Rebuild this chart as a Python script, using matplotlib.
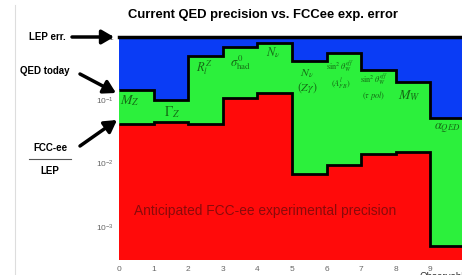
import numpy as np
import matplotlib
matplotlib.use('Agg')
import matplotlib.pyplot as plt
from matplotlib.lines import Line2D

# per observable (bins 0..9)
edges = np.arange(0, 11)
qed_today = [0.145, 0.10, 0.50, 0.69, 0.80, 0.42, 0.55, 0.30, 0.195, 0.053]
fcc_over_lep = [0.043, 0.045, 0.042, 0.11, 0.13, 0.0069, 0.0096, 0.014, 0.0155, 0.0005]
obs_labels = [r'$M_Z$', r'$\Gamma_Z$', r'$R_l^Z$', r'$\sigma^0_{\rm had}$', r'$N_\nu$',
              r'$N_\nu$' + '\n' + r'$(Z\gamma)$',
              r'$\sin^2\theta_W^{eff}$' + '\n' + r'$(A^l_{FB})$',
              r'$\sin^2\theta_W^{eff}$' + '\n' + r'$(\tau\ pol)$',
              r'$M_W$', r'$\alpha_{QED}$']
ytick_vals = [1e-3, 1e-2, 1e-1, 1]
ytick_labels = [r'$\mathregular{10^{-3}}$', r'$\mathregular{10^{-2}}$',
                r'$\mathregular{10^{-1}}$', '1']

plt.rcParams['font.family'] = ['Liberation Sans', 'DejaVu Sans']
plt.rcParams['mathtext.fontset'] = 'stix'

fig = plt.figure(figsize=(4.62, 2.75), dpi=100)
ax = fig.add_axes([119/462, 1-260/275, 346/462, 223/275])
ymin = 10**(-223/63.3)

ax.stairs([1]*10, edges, baseline=qed_today, fill=True, color='#0a3cf5')
ax.stairs(qed_today, edges, baseline=fcc_over_lep, fill=True, color='#2cf03c')
ax.stairs(fcc_over_lep, edges, baseline=ymin, fill=True, color='#ff0a0a')
ax.stairs(qed_today, edges, baseline=None, color='black', lw=2)
ax.stairs(fcc_over_lep, edges, baseline=None, color='black', lw=2)
ax.axhline(1, color='black', lw=2.5, clip_on=False)

ax.set_yscale('log')
ax.set_ylim(ymin, 1)
ax.set_xlim(0, 10)
for s in ax.spines.values():
    s.set_visible(False)
ax.set_yticks(ytick_vals)
ax.set_yticklabels(ytick_labels)
ax.yaxis.set_minor_locator(matplotlib.ticker.NullLocator())
ax.set_xticks(range(10))
ax.tick_params(length=0, labelsize=6, colors='#666666', pad=4)

# label positions (x, log10 y, size)
pos = [(0.32, -1.0, 10), (1.53, -1.19, 10), (2.46, -0.49, 9), (3.5, -0.40, 9),
       (4.45, -0.24, 9), (5.43, -0.70, 8.5), (6.4, -0.60, 6), (7.37, -0.78, 6),
       (8.38, -0.92, 10), (9.5, -1.44, 9)]
for lab, (x, ly, fs) in zip(obs_labels, pos):
    ax.text(x, 10**ly, lab, ha='center', va='center', fontsize=fs,
            color='#156b15', linespacing=1.1)

ax.text(0.42, 10**-2.75, 'Anticipated FCC-ee experimental precision',
        fontsize=9.9, color='#8a0a0a', va='center')

fig.text(263/462, 1-15/275, 'Current QED precision vs. FCCee exp. error',
         ha='center', va='center', fontsize=9.4, fontweight='bold')

# left annotations
def fp(x, y):
    return (x/462, 1-y/275)

fig.text(*fp(47, 37), 'LEP err.', ha='center', va='center', fontsize=7, fontweight='bold')
fig.text(*fp(45, 71), 'QED today', ha='center', va='center', fontsize=7, fontweight='bold')
fig.text(*fp(50, 148), 'FCC-ee', ha='center', va='center', fontsize=7, fontweight='bold')
fig.text(*fp(50, 171), 'LEP', ha='center', va='center', fontsize=7, fontweight='bold')
fig.add_artist(Line2D([29/462, 71/462], [1-159/275]*2, color='#555555', lw=0.8))
fig.add_artist(Line2D([15/462, 15/462], [0, 1-5/275], color='#dddddd', lw=0.8))

arrow = dict(arrowstyle='-|>,head_length=0.6,head_width=0.35', lw=2.5, color='black',
             shrinkA=0, shrinkB=0, mutation_scale=12)
for (x0, y0), (x1, y1) in [((72, 37), (114, 37)), ((80, 74), (116, 93)),
                           ((80, 146), (117, 120))]:
    fig.add_artist(matplotlib.patches.FancyArrowPatch(fp(x0, y0), fp(x1, y1),
                   transform=fig.transFigure, **arrow))

fig.text(*fp(420, 272), 'Observable', ha='left', va='top', fontsize=7, color='#333333')

fig.savefig('out.png', dpi=100)
